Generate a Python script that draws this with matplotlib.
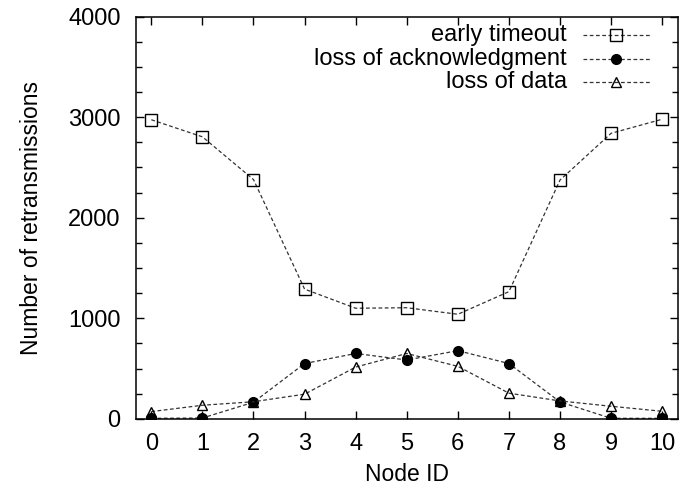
import matplotlib
matplotlib.use("Agg")
import matplotlib.pyplot as plt
from matplotlib.lines import Line2D
from matplotlib.ticker import MultipleLocator

plt.rcParams['font.family'] = ['Liberation Sans', 'DejaVu Sans']

node_ids = [0, 1, 2, 3, 4, 5, 6, 7, 8, 9, 10]
early_timeout = [2975, 2805, 2380, 1290, 1100, 1105, 1040, 1265, 2375, 2840, 2980]
loss_ack = [5, 8, 165, 550, 650, 585, 678, 550, 168, 5, 5]
loss_data = [72, 135, 170, 245, 515, 650, 522, 255, 178, 125, 75]
labels = ["early timeout", "loss of acknowledgment", "loss of data"]

FS = 17
fig = plt.figure(figsize=(6.79, 4.91), dpi=100)
ax = fig.add_axes([0.2003, 0.147, 0.7975, 0.819])

line_kw = dict(color='#333333', linestyle=(0, (3, 2)), linewidth=0.9)
styles = [
    dict(marker='s', markersize=8, markerfacecolor='none', markeredgecolor='black', markeredgewidth=1.0),
    dict(marker='o', markersize=7, markerfacecolor='black', markeredgecolor='black'),
    dict(marker='^', markersize=7.5, markerfacecolor='none', markeredgecolor='black', markeredgewidth=1.0),
]
series = [early_timeout, loss_ack, loss_data]
for vals, st in zip(series, styles):
    ax.plot(node_ids, vals, **line_kw, **st)

ax.set_xlim(-0.3, 10.3)
ax.set_ylim(0, 4000)
ax.set_xticks(node_ids)
ax.yaxis.set_major_locator(MultipleLocator(1000))
ax.yaxis.set_minor_locator(MultipleLocator(250))
ax.tick_params(which='both', direction='in', top=True, right=True, labelsize=FS, width=1.0)
ax.tick_params(axis='x', which='major', pad=10)
ax.tick_params(axis='y', which='major', pad=11)
ax.tick_params(which='major', length=6)
ax.tick_params(which='minor', length=4)
for s in ax.spines.values():
    s.set_linewidth(1.1)

ax.set_xlabel("Node ID", fontsize=16.5, labelpad=6)
ax.set_ylabel("Number of retransmissions", fontsize=16.5, labelpad=18)

# legend drawn manually (gnuplot style: text right-aligned, sample to the right)
x0, x1 = 136.0, 677.5
y0, y1 = 16.7, 418.8
def ax_x(px):
    return (px - x0) / (x1 - x0)
def ax_y(py):
    return (y1 - py) / (y1 - y0)

rows = [35, 59, 82]
for lab, st, py in zip(labels, styles, rows):
    ax.text(ax_x(567), ax_y(py), lab, transform=ax.transAxes, ha='right', va='center', fontsize=FS)
    ax.add_line(Line2D([ax_x(583), ax_x(650)], [ax_y(py), ax_y(py)], transform=ax.transAxes,
                       clip_on=False, **line_kw))
    ax.add_line(Line2D([ax_x(616)], [ax_y(py)], transform=ax.transAxes, clip_on=False,
                       linestyle='none', **st))

fig.savefig("out.png", dpi=100)
